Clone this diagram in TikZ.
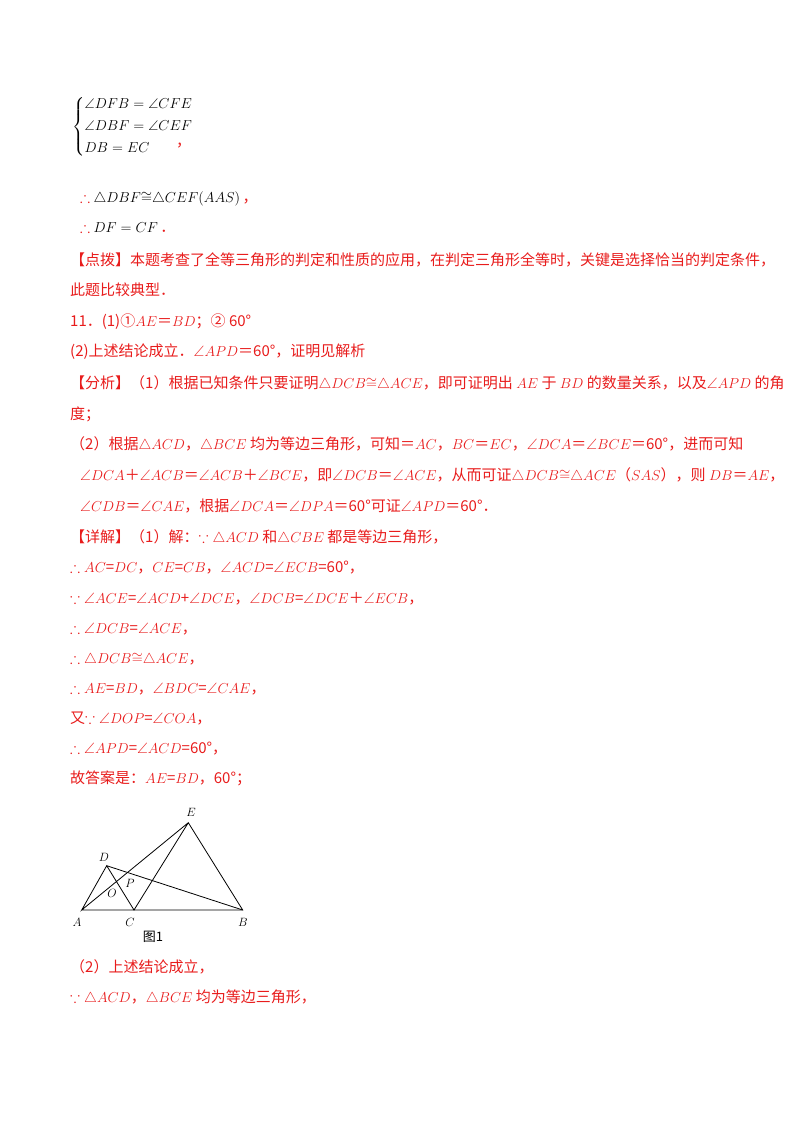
\documentclass[tikz,border=0pt]{standalone}
\usepackage{amsmath,amssymb}
\usepackage{fontspec}
\setmainfont{Noto Sans CJK SC}
\definecolor{rd}{RGB}{232,28,28}
\begin{document}
\begin{tikzpicture}[x=1pt,y=-1pt,
  t/.style={anchor=base west,inner sep=0pt,text=rd,font=\fontsize{15}{17}\selectfont},
  lab/.style={inner sep=0pt,font=\fontsize{13}{15}\selectfont},
  seg/.style={line width=0.8pt}]
\useasboundingbox (0,0) rectangle (800,1132);
\node[anchor=west,inner sep=0pt,font=\fontsize{14}{17}\selectfont] (sys) at (72,127)
 {$\left\{\begin{array}{@{}l@{}}\angle DFB=\angle CFE\\[5pt]\angle DBF=\angle CEF\\[5pt]DB=EC\end{array}\right.$};
\node[t] (c0) at (176,146) {，};
\node[t] (l1) at (80,202) {$\therefore$\ \textcolor{black}{$\triangle DBF{\cong}\triangle CEF(AAS)$}\,，};
\node[t] (l2) at (80,232) {$\therefore$\ \textcolor{black}{$DF=CF$}\,．};
\node[t] (l3) at (70,265) {【点拨】本题考查了全等三角形的判定和性质的应用，在判定三角形全等时，关键是选择恰当的判定条件，};
\node[t] (l4) at (70,295) {此题比较典型．};
\node[t] (l5) at (70,326) {11．(1)①$AE$＝$BD$；② 60°};
\node[t] (l6) at (70,356) {(2)上述结论成立．$\angle APD$＝60°，证明见解析};
\node[t] (l7) at (70,388) {【分析】（1）根据已知条件只要证明$\triangle DCB{\cong}\triangle ACE$，即可证明出 $AE$ 于 $BD$ 的数量关系，以及$\angle APD$ 的角};
\node[t] (l8) at (70,419) {度；};
\node[t] (l9) at (70,449) {（2）根据$\triangle ACD$，$\triangle BCE$ 均为等边三角形，可知＝$AC$，$BC$＝$EC$，$\angle DCA$＝$\angle BCE$＝60°，进而可知};
\node[t] (l10) at (80,480) {$\angle DCA$＋$\angle ACB$＝$\angle ACB$＋$\angle BCE$，即$\angle DCB$＝$\angle ACE$，从而可证$\triangle DCB{\cong}\triangle ACE$（$SAS$），则 $DB$＝$AE$，};
\node[t] (l11) at (80,511) {$\angle CDB$＝$\angle CAE$，根据$\angle DCA$＝$\angle DPA$＝60°可证$\angle APD$＝60°．};
\node[t] (l12) at (70,542) {【详解】（1）解：$\because\triangle ACD$ 和$\triangle CBE$ 都是等边三角形，};
\node[t] (l13) at (70,572) {$\therefore AC$=$DC$，$CE$=$CB$，$\angle ACD$=$\angle ECB$=60°，};
\node[t] (l14) at (70,603) {$\because\angle ACE$=$\angle ACD$+$\angle DCE$，$\angle DCB$=$\angle DCE$＋$\angle ECB$，};
\node[t] (l15) at (70,633) {$\therefore\angle DCB$=$\angle ACE$，};
\node[t] (l16) at (70,663) {$\therefore\triangle DCB{\cong}\triangle ACE$，};
\node[t] (l17) at (70,693) {$\therefore AE$=$BD$，$\angle BDC$=$\angle CAE$，};
\node[t] (l18) at (70,723) {又$\because\angle DOP$=$\angle COA$，};
\node[t] (l19) at (70,753) {$\therefore\angle APD$=$\angle ACD$=60°，};
\node[t] (l20) at (70,783) {故答案是：$AE$=$BD$，60°；};
\node[t] (l21) at (70,972) {（2）上述结论成立，};
\node[t] (l22) at (70,1002) {$\because\triangle ACD$，$\triangle BCE$ 均为等边三角形，};
% figure
\coordinate (A) at (81.7,910);
\coordinate (C) at (134,910);
\coordinate (B) at (242.7,910);
\coordinate (D) at (106.7,865.7);
\coordinate (E) at (188.3,822.7);
\draw[seg] (A) -- (B) -- (E) -- (C) -- (D) -- (A) -- (E);
\draw[seg] (D) -- (B);
\node[lab] (lE) at (191,812) {$E$};
\node[lab] (lD) at (104,857) {$D$};
\node[lab] (lO) at (112,893) {$O$};
\node[lab] (lP) at (130,883) {$P$};
\node[lab] (lA) at (77,922) {$A$};
\node[lab] (lC) at (130,922) {$C$};
\node[lab] (lB) at (243,922) {$B$};
\node[inner sep=0pt,font=\fontsize{13}{15}\selectfont] (cap) at (153,937) {图1};
\end{tikzpicture}
\end{document}
